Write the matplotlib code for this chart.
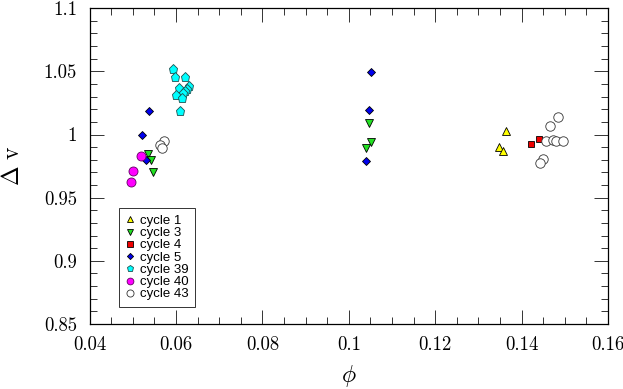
import matplotlib
matplotlib.use('Agg')
import matplotlib.pyplot as plt
from matplotlib.ticker import MultipleLocator, FuncFormatter

plt.rcParams['font.family'] = 'cmr10'
plt.rcParams['mathtext.fontset'] = 'cm'
plt.rcParams['axes.formatter.use_mathtext'] = True

# datos por ciclo (phi, delta v)
c1_x = [0.1363, 0.1348, 0.1357]
c1_y = [1.0029, 0.9903, 0.9871]

c3_x = [0.0535, 0.0542, 0.0547, 0.1048, 0.1052, 0.1041]
c3_y = [0.9843, 0.9797, 0.9703, 1.0088, 0.9937, 0.9890]

c4_x = [0.1423, 0.1440]
c4_y = [0.9926, 0.9964]

c5_x = [0.0538, 0.0522, 0.0531, 0.1052, 0.1046, 0.1040]
c5_y = [1.0185, 0.9998, 0.9797, 1.0496, 1.0193, 0.9790]

c39_x = [0.0592, 0.0597, 0.0622, 0.0606, 0.0630, 0.0626, 0.0621, 0.0616,
         0.0601, 0.0614, 0.0610]
c39_y = [1.0520, 1.0454, 1.0458, 1.0369, 1.0381, 1.0357, 1.0341, 1.0325,
         1.0309, 1.0286, 1.0185]

c40_x = [0.0518, 0.0501, 0.0495]
c40_y = [0.9827, 0.9708, 0.9623]

c43_x = [0.0573, 0.0564, 0.0568, 0.1484, 0.1466, 0.1457, 0.1473, 0.1480,
         0.1496, 0.1450, 0.1443]
c43_y = [0.9950, 0.9916, 0.9892, 1.0138, 1.0066, 0.9948, 0.9956, 0.9948,
         0.9948, 0.9805, 0.9774]

fig = plt.figure(figsize=(6.23, 3.89), dpi=100)
ax = fig.add_axes([0.1438, 0.167, 0.832, 0.812])

ew = 0.6
ax.plot(c1_x, c1_y, '^', ms=6.2, mfc='#ffff00', mec='k', mew=ew, ls='none', label='cycle 1')
ax.plot(c3_x, c3_y, 'v', ms=6.2, mfc='#22e022', mec='k', mew=ew, ls='none', label='cycle 3')
ax.plot(c4_x, c4_y, 's', ms=5, mfc='#ee0000', mec='k', mew=ew, ls='none', label='cycle 4')
ax.plot(c5_x, c5_y, 'D', ms=4.2, mfc='#0000ee', mec='k', mew=ew, ls='none', label='cycle 5')
ax.plot(c39_x, c39_y, 'p', ms=6.6, mfc='#00ffff', mec='#205050', mew=ew, ls='none', label='cycle 39')
ax.plot(c40_x, c40_y, 'o', ms=6.5, mfc='#ff00ff', mec='#600060', mew=ew, ls='none', label='cycle 40')
ax.plot(c43_x, c43_y, 'o', ms=6.8, mfc='white', mec='#333333', mew=ew, ls='none', label='cycle 43')

ax.set_xlim(0.04, 0.16)
ax.set_ylim(0.85, 1.1)

ax.xaxis.set_major_locator(MultipleLocator(0.02))
ax.xaxis.set_minor_locator(MultipleLocator(0.005))
ax.yaxis.set_major_locator(MultipleLocator(0.05))
ax.yaxis.set_minor_locator(MultipleLocator(0.01))
fmt = FuncFormatter(lambda v, p: '%g' % round(v, 4))
ax.xaxis.set_major_formatter(fmt)
ax.yaxis.set_major_formatter(fmt)

ax.tick_params(which='both', direction='in', top=True, right=True, width=0.7, color='#333333')
ax.tick_params(which='major', length=10, labelsize=13.5, pad=9)
ax.tick_params(which='minor', length=5)
for s in ax.spines.values():
    s.set_linewidth(0.9)

ax.set_xlabel(r'$\phi$', fontsize=17, labelpad=6)
ax.set_ylabel(r'$\Delta\ \mathrm{v}$', fontsize=17, labelpad=14)

leg = ax.legend(loc='lower left', bbox_to_anchor=(0.0567, 0.054), borderaxespad=0,
                prop={'family': 'Liberation Sans', 'size': 9.5}, fancybox=False,
                edgecolor='#333333', framealpha=1, labelspacing=0.0, handlelength=0.6,
                handletextpad=0.5, borderpad=0.5, markerscale=0.75)
leg.get_frame().set_linewidth(0.7)

fig.savefig('out.png', dpi=100)
